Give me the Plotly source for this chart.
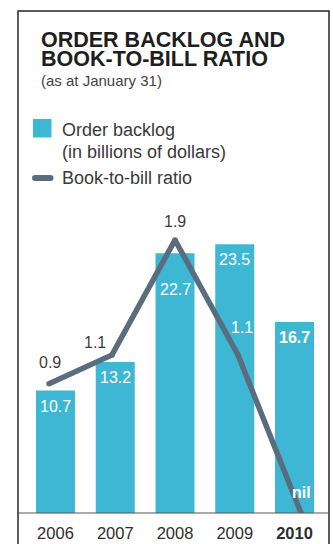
import plotly.graph_objects as go

# Fiscal years (as at January 31)
years = ["2006", "2007", "2008", "2009", "2010"]
# Order backlog, billions of dollars
backlog = [10.7, 13.2, 22.7, 23.5, 16.7]
# Book-to-bill ratio
ratio = [0.9, 1.1, 1.9, 1.1, 0.0]

W, H = 333, 544
BAR_COLOR = "#3eb7d5"
LINE_COLOR = "#5a6d7f"
FONT = "Liberation Sans, Arial, Helvetica, sans-serif"


def px(x):
    return x / W


def py(y):
    return 1 - y / H


# plot area in page pixels
X_LEFT, X_RIGHT = 25.6, 324.4
Y_TOP, Y_BASE = 195.0, 513.0
BAR_PX_PER_UNIT = 11.44
RATIO_PX_PER_UNIT = 143.7
plot_h = Y_BASE - Y_TOP

idx = list(range(len(years)))

fig = go.Figure()

fig.add_trace(go.Bar(
    x=idx, y=backlog, marker=dict(color=BAR_COLOR, line=dict(width=0)),
    xaxis="x", yaxis="y", hoverinfo="skip",
))

fig.add_trace(go.Scatter(
    x=idx, y=ratio, mode="lines+markers",
    line=dict(color=LINE_COLOR, width=5.5),
    marker=dict(color=LINE_COLOR, size=5.5),
    xaxis="x2", yaxis="y2", hoverinfo="skip",
))

annotations = []

# backlog labels, white, inside bar tops
bar_label_drop = [-5, -5, -26, -5, -5]
for i, v in enumerate(backlog):
    txt = f"{v:.1f}"
    if i == len(years) - 1:
        txt = f"<b>{txt}</b>"
    annotations.append(dict(
        x=i, y=v, xref="x", yref="y", text=txt, showarrow=False,
        yanchor="top", xanchor="center", yshift=bar_label_drop[i],
        font=dict(family=FONT, size=16, color="white"),
    ))

# ratio labels
ratio_shift = [(1, 21), (-17, 12), (0, 18), (4, 27), (0, 21)]
ratio_color = ["#3d3d3d", "#3d3d3d", "#3d3d3d", "white", "white"]
for i, v in enumerate(ratio):
    txt = f"{v:.1f}" if v > 0 else "<b>nil</b>"
    annotations.append(dict(
        x=i, y=v, xref="x2", yref="y2", text=txt, showarrow=False,
        yanchor="middle", xanchor="center",
        xshift=ratio_shift[i][0], yshift=ratio_shift[i][1],
        font=dict(family=FONT, size=16, color=ratio_color[i]),
    ))

# title block
annotations += [
    dict(x=px(39), y=py(39.5), xref="paper", yref="paper", xanchor="left",
         yanchor="middle", showarrow=False, text="<b>ORDER BACKLOG AND</b>",
         font=dict(family=FONT, size=21.5, color="#1e1e1e")),
    dict(x=px(39), y=py(58.5), xref="paper", yref="paper", xanchor="left",
         yanchor="middle", showarrow=False, text="<b>BOOK-TO-BILL RATIO</b>",
         font=dict(family=FONT, size=21.5, color="#1e1e1e")),
    dict(x=px(39), y=py(80.5), xref="paper", yref="paper", xanchor="left",
         yanchor="middle", showarrow=False, text="(as at January 31)",
         font=dict(family=FONT, size=15, color="#444444")),
]

# legend text
annotations += [
    dict(x=px(60), y=py(129.5), xref="paper", yref="paper", xanchor="left",
         yanchor="middle", showarrow=False, text="Order backlog",
         font=dict(family=FONT, size=18, color="#3a3a3a")),
    dict(x=px(60), y=py(151.5), xref="paper", yref="paper", xanchor="left",
         yanchor="middle", showarrow=False, text="(in billions of dollars)",
         font=dict(family=FONT, size=18, color="#3a3a3a")),
    dict(x=px(60), y=py(178), xref="paper", yref="paper", xanchor="left",
         yanchor="middle", showarrow=False, text="Book-to-bill ratio",
         font=dict(family=FONT, size=18, color="#3a3a3a")),
]

shapes = [
    # frame (open at the bottom)
    dict(type="path", xref="paper", yref="paper",
         path=f"M {px(18)} {py(560)} L {px(18)} {py(11)} L {px(329)} {py(11)} L {px(329)} {py(560)}",
         line=dict(color="#262626", width=1.5)),
    # baseline
    dict(type="line", xref="paper", yref="paper", x0=px(18), x1=px(329),
         y0=py(Y_BASE), y1=py(Y_BASE), line=dict(color="#555555", width=1.2),
         layer="above"),
    # legend swatch for bars
    dict(type="rect", xref="paper", yref="paper", x0=px(33), x1=px(51.5),
         y0=py(137.5), y1=py(119), fillcolor=BAR_COLOR, line=dict(width=0)),
    # legend swatch for ratio line (rounded ends)
    dict(type="line", xref="paper", yref="paper", x0=px(35), x1=px(50.5),
         y0=py(178), y1=py(178), line=dict(color=LINE_COLOR, width=6)),
    dict(type="circle", xref="paper", yref="paper", x0=px(32), x1=px(38),
         y0=py(181), y1=py(175), fillcolor=LINE_COLOR, line=dict(width=0)),
    dict(type="circle", xref="paper", yref="paper", x0=px(47.5), x1=px(53.5),
         y0=py(181), y1=py(175), fillcolor=LINE_COLOR, line=dict(width=0)),
]

# line axis spans slightly wider than the bar slots
line_span = 63.0
slot = (X_RIGHT - X_LEFT) / 5
half = (X_RIGHT - X_LEFT) / 2 / line_span

fig.update_layout(
    width=W, height=H,
    margin=dict(l=0, r=0, t=0, b=0),
    paper_bgcolor="white", plot_bgcolor="rgba(0,0,0,0)",
    showlegend=False,
    bargap=1 - 39 / slot,
    xaxis=dict(
        domain=[px(X_LEFT), px(X_RIGHT)], range=[-0.5, 4.5],
        showgrid=False, zeroline=False, showline=False, ticks="",
        tickmode="array", tickvals=idx,
        ticktext=["2006", "2007", "2008", "2009", "<b>2010</b>"],
        tickfont=dict(family=FONT, size=16.5, color="#2e2e2e"),
        ticklabelstandoff=8,
    ),
    yaxis=dict(
        domain=[py(Y_BASE), py(Y_TOP)], range=[0, plot_h / BAR_PX_PER_UNIT],
        visible=False,
    ),
    xaxis2=dict(
        overlaying="x", range=[2 - half, 2 + half], visible=False,
    ),
    yaxis2=dict(
        overlaying="y", range=[0, plot_h / RATIO_PX_PER_UNIT], visible=False,
    ),
    annotations=annotations,
    shapes=shapes,
)

fig.write_html("out.html")
